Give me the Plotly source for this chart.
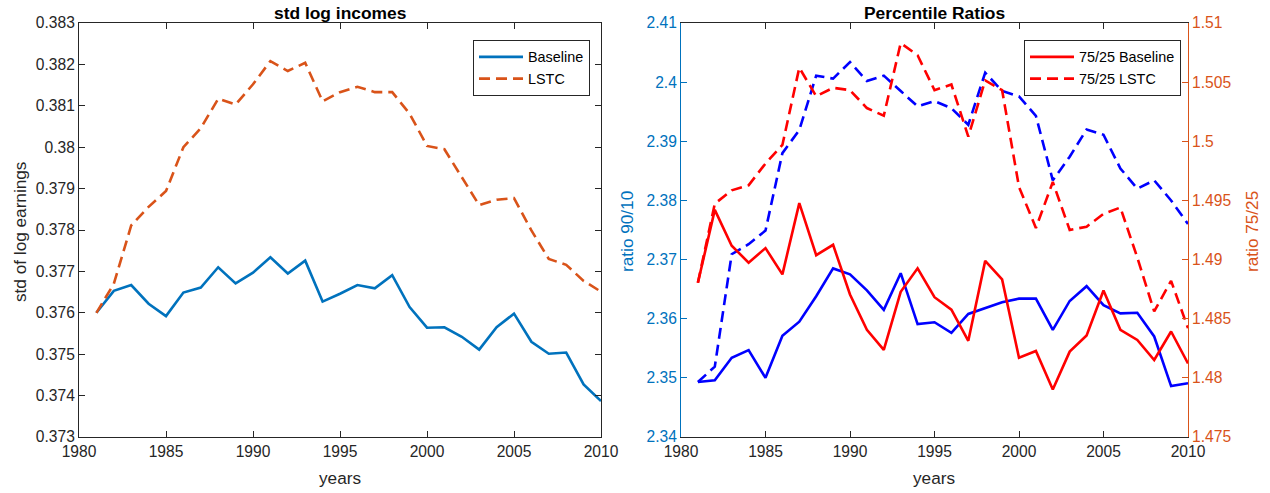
import plotly.graph_objects as go

years = list(range(1981, 2011))

std_baseline = [0.3760, 0.37653, 0.37667, 0.37622, 0.37592, 0.37649, 0.37661, 0.37710, 0.37671, 0.37697,
                0.37734, 0.37695, 0.37726, 0.37627, 0.37646, 0.37667, 0.37659, 0.37691, 0.37614, 0.37564,
                0.37565, 0.37542, 0.37511, 0.37565, 0.37598, 0.37530, 0.37501, 0.37504, 0.37427, 0.37387]
std_lstc = [0.3760, 0.37670, 0.37811, 0.37856, 0.37894, 0.38000, 0.38046, 0.38117, 0.38103, 0.38152,
            0.38208, 0.38184, 0.38204, 0.38111, 0.38133, 0.38146, 0.38133, 0.38133, 0.38081, 0.38003,
            0.37995, 0.37929, 0.37860, 0.37873, 0.37877, 0.37799, 0.37730, 0.37716, 0.37677, 0.37651]

r9010_baseline = [2.3493, 2.3496, 2.3534, 2.3547, 2.3500, 2.3571, 2.3595, 2.3638, 2.3685, 2.3675,
                  2.3648, 2.3615, 2.3677, 2.3591, 2.3594, 2.3576, 2.3608, 2.3618, 2.3628, 2.3634,
                  2.3634, 2.3581, 2.3630, 2.3655, 2.3623, 2.3609, 2.3610, 2.3570, 2.3486, 2.3491]
r9010_lstc = [2.3493, 2.3519, 2.3709, 2.3726, 2.3749, 2.3880, 2.3919, 2.4011, 2.4006, 2.4034,
              2.4002, 2.4011, 2.3985, 2.3959, 2.3968, 2.3956, 2.3928, 2.4016, 2.3985, 2.3976,
              2.3943, 2.3834, 2.3874, 2.3920, 2.3911, 2.3854, 2.3820, 2.3834, 2.3800, 2.3760]
r7525_baseline = [1.48804, 1.49420, 1.49117, 1.48974, 1.49097, 1.48875, 1.49477, 1.49037, 1.49125, 1.48705,
                  1.48406, 1.48236, 1.48727, 1.48926, 1.48682, 1.48577, 1.48313, 1.48989, 1.48832, 1.48170,
                  1.48227, 1.47901, 1.48222, 1.48358, 1.48739, 1.48406, 1.48321, 1.48151, 1.48392, 1.48122]
r7525_lstc = [1.48804, 1.49472, 1.49585, 1.49628, 1.49812, 1.49969, 1.50622, 1.50381, 1.50452, 1.50432,
              1.50281, 1.50216, 1.50830, 1.50727, 1.50432, 1.50480, 1.50040, 1.50514, 1.50432, 1.49614,
              1.49267, 1.49656, 1.49250, 1.49278, 1.49386, 1.49440, 1.49017, 1.48562, 1.48820, 1.48420]

x_ticks = [1980, 1985, 1990, 1995, 2000, 2005, 2010]
std_ticks = [0.373, 0.374, 0.375, 0.376, 0.377, 0.378, 0.379, 0.380, 0.381, 0.382, 0.383]
std_ticktext = ["0.373", "0.374", "0.375", "0.376", "0.377", "0.378", "0.379", "0.38", "0.381", "0.382", "0.383"]
r9010_ticks = [2.34, 2.35, 2.36, 2.37, 2.38, 2.39, 2.40, 2.41]
r9010_ticktext = ["2.34", "2.35", "2.36", "2.37", "2.38", "2.39", "2.4", "2.41"]
r7525_ticks = [1.475, 1.480, 1.485, 1.490, 1.495, 1.500, 1.505, 1.510]
r7525_ticktext = ["1.475", "1.48", "1.485", "1.49", "1.495", "1.5", "1.505", "1.51"]

W, H = 1270, 493
TXT = "#262626"
MBLUE = "#0072BD"
MORANGE = "#D95319"
FONT = "Liberation Sans, Arial, sans-serif"
LW = 2.6
DASH = "11px,6px"
TICKSZ = 15.6
LABSZ = 17.2

def px_x(p):
    return p / W

def px_y(p):
    return 1 - p / H

fig = go.Figure()

fig.add_trace(go.Scatter(x=years, y=std_baseline, mode="lines", name="Baseline",
                         line=dict(color=MBLUE, width=LW), xaxis="x", yaxis="y", legend="legend"))
fig.add_trace(go.Scatter(x=years, y=std_lstc, mode="lines", name="LSTC",
                         line=dict(color=MORANGE, width=LW, dash=DASH), xaxis="x", yaxis="y", legend="legend"))

fig.add_trace(go.Scatter(x=years, y=r9010_baseline, mode="lines", name="90/10 Baseline", showlegend=False,
                         line=dict(color="#0000FF", width=LW), xaxis="x2", yaxis="y2"))
fig.add_trace(go.Scatter(x=years, y=r9010_lstc, mode="lines", name="90/10 LSTC", showlegend=False,
                         line=dict(color="#0000FF", width=LW, dash=DASH), xaxis="x2", yaxis="y2"))
fig.add_trace(go.Scatter(x=years, y=r7525_baseline, mode="lines", name="75/25 Baseline",
                         line=dict(color="#FF0000", width=LW), xaxis="x2", yaxis="y3", legend="legend2"))
fig.add_trace(go.Scatter(x=years, y=r7525_lstc, mode="lines", name="75/25 LSTC",
                         line=dict(color="#FF0000", width=LW, dash=DASH), xaxis="x2", yaxis="y3", legend="legend2"))

ydom = [px_y(437), px_y(23)]
tickfont = dict(family=FONT, size=TICKSZ, color=TXT)

common_x = dict(range=[1980, 2010], tickvals=x_ticks, ticks="inside", ticklen=6, tickcolor=TXT,
                showline=True, linecolor=TXT, linewidth=1, mirror="ticks", showgrid=False,
                zeroline=False, tickfont=tickfont, automargin=False)

legend_common = dict(bgcolor="white", bordercolor=TXT, borderwidth=1,
                     font=dict(family=FONT, size=14.4, color="#000000"),
                     xanchor="right", yanchor="top", tracegroupgap=0, itemwidth=44)

fig.update_layout(
    width=W, height=H, autosize=False,
    margin=dict(l=0, r=0, t=0, b=0, pad=0, autoexpand=False),
    paper_bgcolor="white", plot_bgcolor="white",
    font=dict(family=FONT, color=TXT),
    xaxis=dict(domain=[px_x(79), px_x(601)], anchor="y", **common_x),
    yaxis=dict(domain=ydom, anchor="x", range=[0.373, 0.383], tickvals=std_ticks, ticktext=std_ticktext,
               ticks="inside", ticklen=6, tickcolor=TXT, showline=True, linecolor=TXT, linewidth=1,
               mirror="ticks", showgrid=False, zeroline=False, tickfont=tickfont, automargin=False),
    xaxis2=dict(domain=[px_x(681), px_x(1188)], anchor="y2", **common_x),
    yaxis2=dict(domain=ydom, anchor="x2", range=[2.34, 2.41], tickvals=r9010_ticks, ticktext=r9010_ticktext,
                ticks="inside", ticklen=6, tickcolor=MBLUE, showline=True, linecolor=MBLUE, linewidth=1,
                showgrid=False, zeroline=False, automargin=False,
                tickfont=dict(family=FONT, size=TICKSZ, color=MBLUE)),
    yaxis3=dict(domain=ydom, anchor="x2", overlaying="y2", side="right", range=[1.475, 1.51],
                tickvals=r7525_ticks, ticktext=r7525_ticktext,
                ticks="inside", ticklen=6, tickcolor=MORANGE, showline=True, linecolor=MORANGE, linewidth=1,
                showgrid=False, zeroline=False, automargin=False,
                tickfont=dict(family=FONT, size=TICKSZ, color=MORANGE)),
    legend=dict(x=px_x(590), y=px_y(40), **legend_common),
    legend2=dict(x=px_x(1181), y=px_y(40), **legend_common),
    showlegend=True,
)

annots = [
    dict(text="<b>std log incomes</b>", x=px_x(340), y=px_y(13), font=dict(size=17.4, color="#000000")),
    dict(text="<b>Percentile Ratios</b>", x=px_x(934), y=px_y(13), font=dict(size=17.4, color="#000000")),
    dict(text="years", x=px_x(340), y=px_y(478), font=dict(size=LABSZ, color=TXT)),
    dict(text="years", x=px_x(934), y=px_y(478), font=dict(size=LABSZ, color=TXT)),
    dict(text="std of log earnings", x=px_x(20), y=px_y(232), textangle=-90, font=dict(size=LABSZ, color=TXT)),
    dict(text="ratio 90/10", x=px_x(627), y=px_y(232), textangle=-90, font=dict(size=LABSZ, color=MBLUE)),
    dict(text="ratio 75/25", x=px_x(1252), y=px_y(232), textangle=-90, font=dict(size=LABSZ, color=MORANGE)),
]
for a in annots:
    a["font"]["family"] = FONT
    fig.add_annotation(xref="paper", yref="paper", showarrow=False, xanchor="center", yanchor="middle", **a)

fig.write_html("out.html")
